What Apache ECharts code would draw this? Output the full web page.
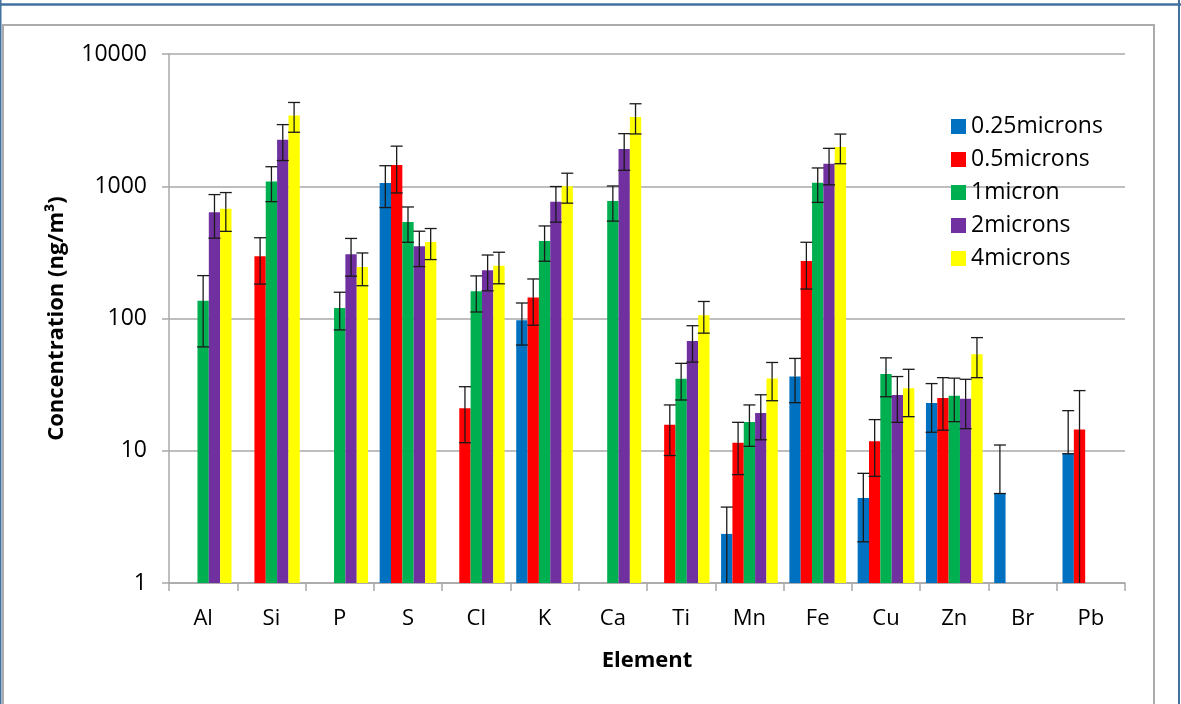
<!DOCTYPE html>
<html>
<head>
<meta charset="utf-8">
<script src="https://cdn.jsdelivr.net/npm/echarts@6/dist/echarts.min.js"></script>
<style>
  html, body { margin: 0; padding: 0; background: #fff; }
  #chart { width: 1181px; height: 704px; }
</style>
</head>
<body>
<div id="chart"></div>
<script>
// elements on the x axis
var elements = ['Al', 'Si', 'P', 'S', 'Cl', 'K', 'Ca', 'Ti', 'Mn', 'Fe', 'Cu', 'Zn', 'Br', 'Pb'];
var seriesNames = ['0.25microns', '0.5microns', '1micron', '2microns', '4microns'];
var tickValues = [1, 10, 100, 1000, 10000];

// concentrations (ng/m3), '-' = no bar
var conc025 = ['-', '-', '-', 1060, '-', 97, '-', '-', 2.35, 36.5, 4.4, 23, 4.75, 9.5];
var conc05  = ['-', 295, '-', 1450, 21, 144, '-', 15.7, 11.5, 272, 11.8, 25, '-', 14.5];
var conc1   = [136, 1085, 120, 537, 161, 386, 775, 35, 16.5, 1065, 38, 26, '-', '-'];
var conc2   = [635, 2245, 306, 352, 232, 765, 1910, 67.5, 19.3, 1480, 26.4, 24.7, '-', '-'];
var conc4   = [676, 3430, 245, 379, 250, 1000, 3345, 106, 35.2, 1980, 29.7, 53.7, '-', '-'];

// error bar sizes (+/-)
var err025 = ['-', '-', '-', 370, '-', 34, '-', '-', 1.4, 13.4, 2.35, 9.2, 6.3, 10.6];
var err05  = ['-', 113, '-', 560, 9.5, 55, '-', 6.5, 4.9, 105, 5.4, 10.7, '-', 14.0];
var err1   = [75, 320, 38, 160, 49, 115, 230, 10.8, 5.7, 310, 12.4, 9.4, '-', '-'];
var err2   = [230, 680, 97, 105, 70, 230, 590, 20.7, 7.2, 455, 10, 10, '-', '-'];
var err4   = [220, 870, 68, 100, 67, 255, 860, 28.5, 11.3, 500, 11.6, 18, '-', '-'];

var colors = ['#0070C0', '#FF0000', '#00B050', '#7030A0', '#FFFF00'];
var allConc = [conc025, conc05, conc1, conc2, conc4];
var allErr = [err025, err05, err1, err2, err4];
var catGap = 0.17;
var font = 'Open Sans';

var chart = echarts.init(document.getElementById('chart'));

function errRenderer(k) {
    return function (params, api) {
        var c = api.value(0), v = api.value(1), e = api.value(2);
        var band = api.size([1, 1])[0];
        var bw = band * (1 - catGap) / 5;
        var p = api.coord([c, v]);
        var x = p[0] + (k - 2) * bw;
        var yTop = api.coord([c, v + e])[1];
        var low = v - e;
        var half = 6;
        var st = { stroke: '#1a1a1a', lineWidth: 1.3 };
        var kids = [
            { type: 'line', shape: { x1: x, y1: p[1], x2: x, y2: yTop }, style: st },
            { type: 'line', shape: { x1: x - half, y1: yTop, x2: x + half, y2: yTop }, style: st }
        ];
        if (low > 0) {
            var yLow = api.coord([c, Math.max(low, 1)])[1];
            kids.push({ type: 'line', shape: { x1: x, y1: p[1], x2: x, y2: yLow }, style: st });
            if (low >= 1) {
                kids.push({ type: 'line', shape: { x1: x - half, y1: yLow, x2: x + half, y2: yLow }, style: st });
            }
        } else {
            // minus bar can't go below zero on a log axis: just a cap at the bar top
            kids.push({ type: 'line', shape: { x1: x - half, y1: p[1], x2: x + half, y2: p[1] }, style: st });
        }
        return { type: 'group', children: kids };
    };
}

var series = [];
seriesNames.forEach(function (name, k) {
    series.push({
        name: name,
        type: 'bar',
        data: allConc[k],
        barGap: '0%',
        barCategoryGap: (catGap * 100) + '%',
        itemStyle: { color: colors[k] }
    });
});
seriesNames.forEach(function (name, k) {
    var rows = [];
    allConc[k].forEach(function (v, i) {
        if (v !== '-') rows.push([i, v, allErr[k][i]]);
    });
    series.push({
        type: 'custom',
        renderItem: errRenderer(k),
        data: rows,
        encode: { x: 0, y: 1 },
        clip: false,
        z: 5,
        silent: true
    });
});

var option = {
    animation: false,
    backgroundColor: '#fff',
    textStyle: { fontFamily: font },
    graphic: [
        { type: 'rect', shape: { x: 3, y: 25, width: 1151, height: 700 }, style: { fill: 'none', stroke: '#ababab', lineWidth: 2 }, silent: true },
        { type: 'line', shape: { x1: 0, y1: 4.5, x2: 1181, y2: 4.5 }, style: { stroke: '#41719C', lineWidth: 2.5 }, silent: true },
        { type: 'line', shape: { x1: 0.5, y1: 0, x2: 0.5, y2: 704 }, style: { stroke: '#41719C', lineWidth: 2 }, silent: true },
        { type: 'line', shape: { x1: 1179, y1: 0, x2: 1179, y2: 704 }, style: { stroke: '#41719C', lineWidth: 2 }, silent: true }
    ],
    legend: {
        data: seriesNames,
        orient: 'vertical',
        left: 946,
        top: 110,
        icon: 'rect',
        itemWidth: 15,
        itemHeight: 15,
        itemGap: 10,
        textStyle: { fontFamily: font, fontSize: 23, color: '#000' }
    },
    grid: { left: 169, right: 56, top: 54, bottom: 121 },
    xAxis: {
        type: 'category',
        data: elements,
        name: 'Element',
        nameLocation: 'middle',
        nameGap: 67,
        nameTextStyle: { fontFamily: font, fontSize: 22, fontWeight: 'bold', color: '#000' },
        axisLine: { lineStyle: { color: '#a8a8a8', width: 1.5 } },
        axisTick: { show: true, length: 8, interval: 0, lineStyle: { color: '#a8a8a8', width: 1.5 } },
        axisLabel: { fontFamily: font, fontSize: 22, color: '#000', margin: 25, interval: 0 }
    },
    yAxis: {
        type: 'log',
        logBase: 10,
        min: tickValues[0],
        max: tickValues[tickValues.length - 1],
        name: 'Concentration (ng/m³)',
        nameLocation: 'middle',
        nameGap: 101,
        nameTextStyle: { fontFamily: font, fontSize: 22, fontWeight: 'bold', color: '#000' },
        axisLine: { show: true, lineStyle: { color: '#a8a8a8', width: 1.5 } },
        axisTick: { show: true, length: 7, lineStyle: { color: '#a8a8a8', width: 1.5 } },
        splitLine: { lineStyle: { color: '#a8a8a8', width: 1.5 } },
        axisLabel: {
            fontFamily: font, fontSize: 23, color: '#000', margin: 22,
            formatter: function (v) { return String(Math.round(v)); }
        }
    },
    series: series
};
chart.setOption(option);
</script>
</body>
</html>
